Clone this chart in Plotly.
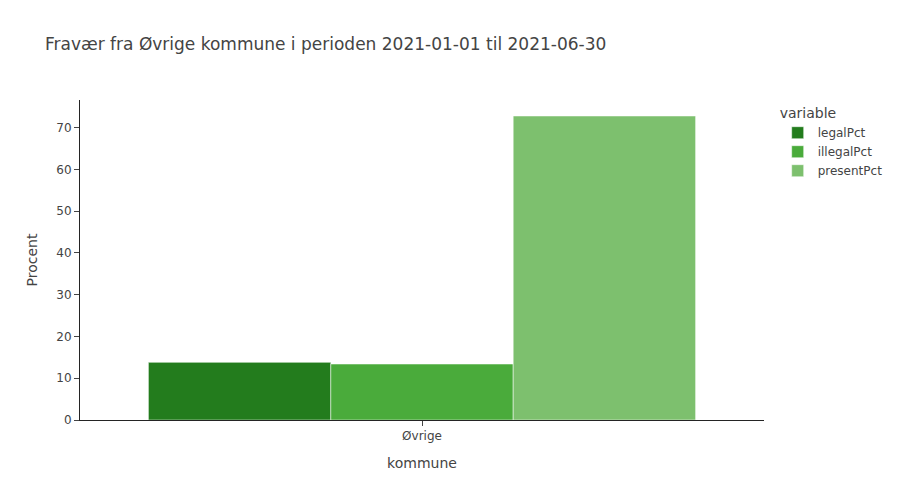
import plotly.graph_objects as go

kommune = ["Øvrige"]
variables = ["legalPct", "illegalPct", "presentPct"]
legalPct = [13.8]
illegalPct = [13.4]
presentPct = [72.8]
colors = ["#237c1d", "#4aab3b", "#7dc06e"]

series = [legalPct, illegalPct, presentPct]

fig = go.Figure()
for name, vals, col in zip(variables, series, colors):
    fig.add_trace(go.Bar(
        x=kommune, y=vals, name=name, legendgroup=name,
        marker=dict(color=col, line=dict(color="white", width=0.5)),
        offsetgroup=name,
    ))

# page body has an 8px margin, so the figure is sized/shifted to compensate
fig.update_layout(
    template="simple_white",
    barmode="group",
    width=892, height=492,
    margin=dict(l=72, t=92, b=80),
    font=dict(family="Verdana, DejaVu Sans, sans-serif", color="#444"),
    title=dict(text="Fravær fra Øvrige kommune i perioden 2021-01-01 til 2021-06-30",
               x=37 / 892, xanchor="left", y=1 - 36 / 492, yanchor="middle"),
    xaxis=dict(title=dict(text="kommune"), tickcolor="#444"),
    yaxis=dict(title=dict(text="Procent"), tickcolor="#444"),
    legend=dict(title=dict(text="variable"), tracegroupgap=0),
)

fig.write_html("out.html")
